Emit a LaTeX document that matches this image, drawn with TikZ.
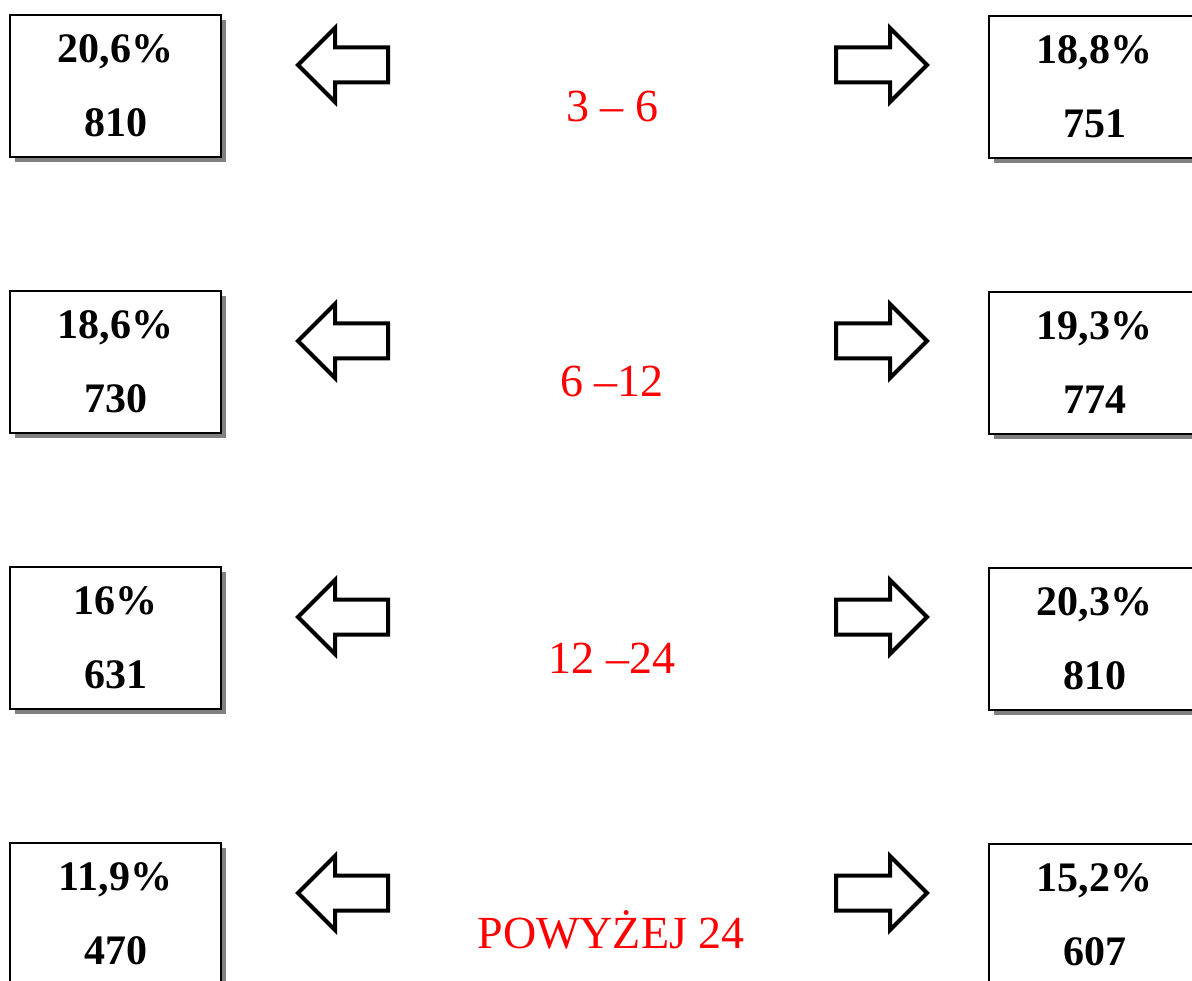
\documentclass[tikz,border=0pt]{standalone}
\usepackage{fontspec}
\setmainfont{Liberation Serif}
\usetikzlibrary{shadows}
\tikzset{
  valbox/.style={draw=black,line width=1.8pt,fill=white,minimum width=211pt,minimum height=142pt,inner sep=0pt,align=center,
    font=\fontsize{42}{74}\selectfont\bfseries,
    drop shadow={shadow xshift=5pt,shadow yshift=-5pt,fill=black!50,opacity=1}},
  rangelbl/.style={text=red,font=\fontsize{46}{50}\selectfont,anchor=base,inner sep=0pt},
  blockarrow/.style={draw=black,line width=4pt,fill=white,line join=miter}
}
\begin{document}
\begin{tikzpicture}[x=1pt,y=-1pt]
\useasboundingbox (0,0) rectangle (1192,981);
\clip (0,0) rectangle (1192,981);
% left column
\node[valbox] (l1) at (115.5,86) {20,6\%\\810};
\node[valbox] (l2) at (115.5,362) {18,6\%\\730};
\node[valbox] (l3) at (115.5,638) {16\%\\631};
\node[valbox] (l4) at (115.5,914) {11,9\%\\470};
% right column
\node[valbox] (r1) at (1094.5,87) {18,8\%\\751};
\node[valbox] (r2) at (1094.5,363) {19,3\%\\774};
\node[valbox] (r3) at (1094.5,639) {20,3\%\\810};
\node[valbox] (r4) at (1094.5,915) {15,2\%\\607};
% ranges
\node[rangelbl] (g1) at (612,122) {3 -- 6};
\node[rangelbl] (g2) at (612,397) {6 --12};
\node[rangelbl] (g3) at (612,673) {12 --24};
\node[rangelbl] (g4) at (611,948) {POWYŻEJ 24};
% block arrows
\foreach \i in {0,1,2,3}{
  \pgfmathsetmacro{\t}{65+276*\i}
  \draw[blockarrow] (298,\t) -- (335,\t-37) -- (335,\t-17.5) -- (388,\t-17.5) -- (388,\t+17.5) -- (335,\t+17.5) -- (335,\t+37) -- cycle;
  \draw[blockarrow] (927,\t) -- (890,\t-37) -- (890,\t-17.5) -- (836,\t-17.5) -- (836,\t+17.5) -- (890,\t+17.5) -- (890,\t+37) -- cycle;
}
\end{tikzpicture}
\end{document}
